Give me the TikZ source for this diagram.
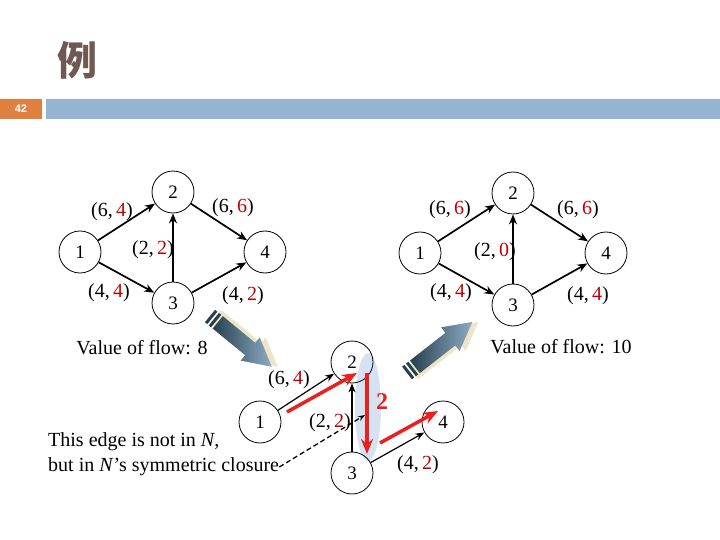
\documentclass[tikz,border=0pt]{standalone}
\usepackage{fontspec}
\setmainfont{Liberation Serif}
\newfontfamily\cjk{Noto Sans CJK SC}
\newfontfamily\headfont{Liberation Sans}
\usetikzlibrary{arrows.meta}
\definecolor{flowred}{RGB}{192,0,0}
\definecolor{pathred}{RGB}{232,32,30}
\definecolor{titlebrown}{RGB}{110,90,82}
\definecolor{barblue}{RGB}{149,180,210}
\definecolor{barorange}{RGB}{224,128,64}
\definecolor{cutblue}{RGB}{214,226,242}
\definecolor{steeldark}{RGB}{40,64,78}
\definecolor{steellight}{RGB}{140,172,196}
\definecolor{shadowtan}{RGB}{238,228,200}
\newcommand{\fl}[1]{\textcolor{flowred}{#1}}
\newcommand{\fatarrow}[3]{%
  \begin{scope}[shift={#1},xshift=6pt,rotate=#2]
    \fill[shadowtan] (0,-8) -- ({#3-28},-8) -- ({#3-28},-15) -- (#3,0) -- ({#3-28},15) -- ({#3-28},8) -- (0,8) -- cycle;
  \end{scope}
  \begin{scope}[shift={#1},rotate=#2]
    \fill[steeldark] (0,-8) rectangle (3,8);
    \fill[steeldark] (5,-8) rectangle (8,8);
    \shade[left color=steeldark,right color=steellight] (10,-8) -- ({#3-28},-8) -- ({#3-28},-15) -- (#3,0) -- ({#3-28},15) -- ({#3-28},8) -- (10,8) -- cycle;
  \end{scope}}

\begin{document}
\begin{tikzpicture}[x=1pt,y=-1pt,
    vertex/.style={circle,draw,line width=0.8pt,minimum size=42pt,inner sep=0pt,font=\fontsize{19}{19}\selectfont},
    flowlabel/.style={inner sep=0pt,font=\fontsize{20}{20}\selectfont},
    edge/.style={line width=1.7pt,-{Stealth[length=10pt,width=8pt]}},
    thinedge/.style={line width=1.2pt,-{Stealth[length=9pt,width=7pt]}},
    augment/.style={pathred,line width=3.5pt,-{Stealth[length=15pt,width=12pt]}}]
    \useasboundingbox (0,0) rectangle (720,540);
    \node[titlebrown,font=\cjk\bfseries\fontsize{40}{40}\selectfont] (title) at (77,60) {例};
    \fill[barorange] (0,99) rectangle (42,119);
    \fill[barblue] (46,99) rectangle (720,119);
    \node[white,font=\headfont\bfseries\fontsize{11}{11}\selectfont] (pageno) at (21,109) {42};

    \node[vertex] (a1) at (80,252) {1};
    \node[vertex] (a2) at (173,192) {2};
    \node[vertex] (a3) at (173,303) {3};
    \node[vertex] (a4) at (265,252) {4};
    \draw[edge] (a1) -- (a2);
    \draw[edge] (a1) -- (a3);
    \draw[edge] (a3) -- (a2);
    \draw[edge] (a2) -- (a4);
    \draw[edge] (a3) -- (a4);
    \node[flowlabel] (a12) at (112,212) {(6,\,\fl{4})};
    \node[flowlabel] (a24) at (233,208) {(6,\,\fl{6})};
    \node[flowlabel] (a32) at (153,250) {(2,\,\fl{2})};
    \node[flowlabel] (a13) at (109,293) {(4,\,\fl{4})};
    \node[flowlabel] (a34) at (243,296) {(4,\,\fl{2})};
    \node[flowlabel] (aval) at (142,348) {Value of flow: 8};

    \node[vertex] (b1) at (420,253) {1};
    \node[vertex] (b2) at (513,193) {2};
    \node[vertex] (b3) at (513,305) {3};
    \node[vertex] (b4) at (606,253) {4};
    \draw[edge] (b1) -- (b2);
    \draw[edge] (b1) -- (b3);
    \draw[edge] (b3) -- (b2);
    \draw[edge] (b2) -- (b4);
    \draw[edge] (b3) -- (b4);
    \node[flowlabel] (b12) at (450,210) {(6,\,\fl{6})};
    \node[flowlabel] (b24) at (578,210) {(6,\,\fl{6})};
    \node[flowlabel] (b32) at (495,252) {(2,\,\fl{0})};
    \node[flowlabel] (b13) at (451,293) {(4,\,\fl{4})};
    \node[flowlabel] (b34) at (588,296) {(4,\,\fl{4})};
    \node[flowlabel] (bval) at (561,347) {Value of flow: 10};

    \fatarrow{(210,316)}{-39.4}{80}
    \fatarrow{(407,373)}{38}{83}

    \fill[cutblue] (368,407) ellipse (13 and 54);
    \node[vertex] (c1) at (260,422) {1};
    \node[vertex] (c2) at (352,362) {2};
    \node[vertex] (c3) at (352,473) {3};
    \node[vertex] (c4) at (443,422) {4};
    \draw[thinedge] (c1) -- (c2);
    \draw[thinedge] (c3) -- (c2);
    \draw[thinedge] (c3) -- (c4);
    \node[flowlabel] (c12) at (289,380) {(6,\,\fl{4})};
    \node[flowlabel] (c32) at (330,423) {(2,\,\fl{2})};
    \node[flowlabel] (c34) at (418,465) {(4,\,\fl{2})};
    \coordinate (r1) at (287,412);
    \coordinate (r2) at (357,373);
    \coordinate (r3) at (367,373);
    \coordinate (r4) at (367,454);
    \coordinate (r5) at (380,443);
    \coordinate (r6) at (438,411);
    \draw[augment] (r1) -- (r2);
    \draw[augment] (r3) -- (r4);
    \draw[augment] (r5) -- (r6);
    \node[pathred,font=\bfseries\fontsize{24}{24}\selectfont] (rback) at (382,402) {2};

    \node[flowlabel,anchor=west] (note1) at (48,442) {This edge is not in \textit{N},};
    \node[flowlabel,anchor=west] (note2) at (48,467) {but in \textit{N}’s symmetric closure};
    \coordinate (dend) at (365,415);
    \draw[line width=1.3pt,dash pattern=on 5pt off 3pt,-{Stealth[length=7pt,width=5pt]}] (note2.east) -- (dend);
\end{tikzpicture}
\end{document}
